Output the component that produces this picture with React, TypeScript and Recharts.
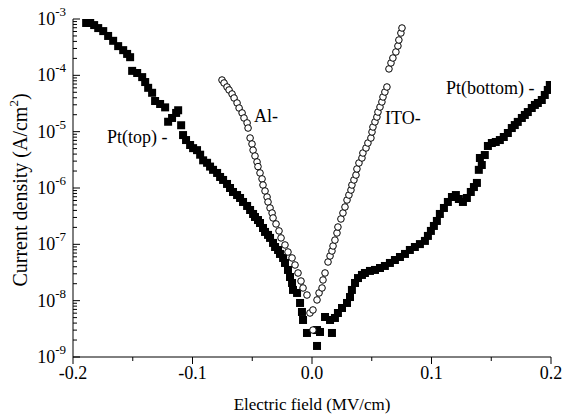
import React from 'react';
import { ScatterChart, Scatter, XAxis, YAxis } from 'recharts';

// Pt (filled squares): electric field (MV/cm) and current density (A/cm^2)
const ptField = [
  -0.189, -0.1856, -0.1823, -0.1789, -0.1747, -0.1706, -0.1664, -0.1622, -0.158, -0.1547,
  -0.1522, -0.1505, -0.1463, -0.1421, -0.1396, -0.1371, -0.1338, -0.1313, -0.1271, -0.1229,
  -0.1204, -0.1171, -0.1137, -0.112, -0.1095, -0.1079, -0.1054, -0.102, -0.0995, -0.0962,
  -0.0936, -0.0911, -0.0878, -0.0853, -0.0828, -0.0794, -0.0769, -0.0744, -0.0711, -0.0686,
  -0.0661, -0.0627, -0.0602, -0.0577, -0.0543, -0.0518, -0.0493, -0.0477, -0.0452, -0.0435,
  -0.041, -0.0393, -0.0368, -0.0351, -0.0326, -0.0309, -0.0284, -0.0268, -0.0242, -0.0226,
  -0.0201, -0.0184, -0.0167, -0.0159, -0.0125, -0.01, -0.0084, -0.0075, -0.0042, 0.0042,
  0.0067, 0.0042, 0.0109, 0.0151, 0.0167, 0.0192, 0.0217, 0.0251, 0.0293, 0.0318,
  0.0334, 0.036, 0.0385, 0.0418, 0.0443, 0.0485, 0.0527, 0.0569, 0.061, 0.0652,
  0.0694, 0.0736, 0.0778, 0.0819, 0.0861, 0.0903, 0.0945, 0.097, 0.0995, 0.102,
  0.1045, 0.107, 0.1104, 0.1137, 0.1171, 0.1204, 0.1229, 0.1263, 0.1296, 0.1329,
  0.1355, 0.138, 0.1396, 0.1421, 0.1405, 0.1446, 0.1472, 0.1505, 0.1538, 0.1572,
  0.1605, 0.1639, 0.1672, 0.1697, 0.1722, 0.1756, 0.1781, 0.1806, 0.1839, 0.1865,
  0.189, 0.1923, 0.1948, 0.1973, 0.199,
];
const ptCurrent = [
  8.5e-4, 8.5e-4, 7.8e-4, 6.9e-4, 6.1e-4, 5.0e-4, 4.1e-4, 3.3e-4, 2.8e-4, 2.4e-4,
  2.1e-4, 1.2e-4, 1.1e-4, 9.3e-5, 7.6e-5, 6.0e-5, 4.9e-5, 3.5e-5, 3.1e-5, 2.7e-5,
  1.5e-5, 1.75e-5, 2.15e-5, 2.4e-5, 1.3e-5, 8.7e-6, 7.1e-6, 5.8e-6, 5.1e-6, 4.7e-6,
  3.9e-6, 3.1e-6, 2.8e-6, 2.4e-6, 2.1e-6, 1.85e-6, 1.57e-6, 1.39e-6, 1.18e-6, 1.0e-6,
  8.5e-7, 7.5e-7, 6.65e-7, 5.65e-7, 4.8e-7, 4.07e-7, 3.46e-7, 3.06e-7, 2.7e-7, 2.39e-7,
  1.95e-7, 1.66e-7, 1.47e-7, 1.3e-7, 1.06e-7, 8.97e-8, 7.94e-8, 6.75e-8, 5.73e-8, 4.67e-8,
  3.51e-8, 2.63e-8, 2.06e-8, 1.55e-8, 1.37e-8, 9.1e-9, 6.3e-9, 4.54e-9, 2.67e-9, 3.01e-9,
  2.78e-9, 1.57e-9, 5.13e-9, 4.54e-9, 2.67e-9, 4.93e-9, 6.04e-9, 7.41e-9, 9.1e-9, 1.16e-8,
  1.55e-8, 2.06e-8, 2.52e-8, 2.86e-8, 3.1e-8, 3.37e-8, 3.51e-8, 3.8e-8, 4.13e-8, 4.67e-8,
  5.27e-8, 5.96e-8, 6.75e-8, 7.94e-8, 8.97e-8, 1.01e-7, 1.15e-7, 1.41e-7, 1.73e-7, 2.12e-7,
  2.6e-7, 3.46e-7, 4.42e-7, 5.65e-7, 6.92e-7, 7.5e-7, 6.38e-7, 5.65e-7, 6.65e-7, 8.5e-7,
  1.04e-6, 1.23e-6, 2.1e-6, 2.56e-6, 3.41e-6, 3.85e-6, 5.57e-6, 6.29e-6, 6.56e-6, 7.1e-6,
  8.04e-6, 9.47e-6, 1.16e-5, 1.31e-5, 1.49e-5, 1.75e-5, 1.98e-5, 2.23e-5, 2.63e-5, 2.98e-5,
  3.23e-5, 3.65e-5, 4.48e-5, 5.5e-5, 6.74e-5,
];

// Al- (open circles)
const alField = [
  -0.0753, -0.0736, -0.0711, -0.0694, -0.0669, -0.0652, -0.0627, -0.061, -0.0585, -0.0569,
  -0.0543, -0.0535, -0.0518, -0.0502, -0.0493, -0.0477, -0.046, -0.0452, -0.0435, -0.0418,
  -0.041, -0.0393, -0.0376, -0.0368, -0.0351, -0.0334, -0.0326, -0.0301, -0.0276, -0.0259,
  -0.0226, -0.0201, -0.0167, -0.0142, -0.0117, -0.0092, -0.0075, -0.0042, -0.0017, 0.0008,
];
const alCurrent = [
  8.26e-5, 7.31e-5, 6.21e-5, 5.5e-5, 4.67e-5, 3.96e-5, 3.23e-5, 2.63e-5, 2.15e-5, 1.75e-5,
  1.43e-5, 1.16e-5, 7.72e-6, 6.04e-6, 4.7e-6, 3.7e-6, 2.9e-6, 2.4e-6, 1.85e-6, 1.45e-6,
  1.13e-6, 8.85e-7, 6.92e-7, 5.65e-7, 4.42e-7, 3.6e-7, 2.94e-7, 2.3e-7, 1.73e-7, 1.3e-7,
  9.74e-8, 7.31e-8, 5.73e-8, 4.3e-8, 3.1e-8, 2.23e-8, 1.68e-8, 1.26e-8, 6.04e-9, 3.01e-9,
];

// ITO- (open circles)
const itoField = [
  0.0008, 0.0042, 0.0059, 0.0084, 0.0092, 0.0109, 0.0134, 0.0151, 0.0167, 0.0176,
  0.0192, 0.0209, 0.0217, 0.0242, 0.0259, 0.0276, 0.0293, 0.0309, 0.0326, 0.0334,
  0.0351, 0.0368, 0.0376, 0.0393, 0.0418, 0.0426, 0.0452, 0.0468, 0.0493, 0.0502,
  0.051, 0.0527, 0.0543, 0.0552, 0.0569, 0.0585, 0.0594, 0.061, 0.0627, 0.0644,
  0.0661, 0.0677, 0.0702, 0.0719, 0.0727, 0.0744, 0.0753,
];
const itoCurrent = [
  6.84e-9, 1.03e-8, 1.37e-8, 1.68e-8, 2.33e-8, 3.1e-8, 4.86e-8, 6.21e-8, 7.62e-8, 9.35e-8,
  1.19e-7, 1.59e-7, 2.03e-7, 2.82e-7, 3.6e-7, 4.6e-7, 6.12e-7, 7.5e-7, 9.2e-7, 1.13e-6,
  1.39e-6, 1.7e-6, 2.18e-6, 2.78e-6, 3.41e-6, 4.18e-6, 5.13e-6, 6.29e-6, 7.72e-6, 9.87e-6,
  1.21e-5, 1.49e-5, 1.82e-5, 2.23e-5, 2.74e-5, 3.37e-5, 4.13e-5, 5.06e-5, 6.21e-5, 1.3e-4,
  1.66e-4, 2.03e-4, 2.6e-4, 3.32e-4, 4.24e-4, 5.64e-4, 6.92e-4,
];

const xTicks = [-0.2, -0.15, -0.1, -0.05, 0, 0.05, 0.1, 0.15, 0.2];
const yDecades = [-9, -8, -7, -6, -5, -4];
const yMinorMultipliers = [1, 2, 3, 4, 5, 6, 7, 8, 9];
const yTicks: number[] = [];
yDecades.forEach((d) => yMinorMultipliers.forEach((m) => yTicks.push(Number(`${m}e${d}`))));
yTicks.push(1e-3);

const xTitle = 'Electric field (MV/cm)';
const yTitle = 'Current density (A/cm';
const labelPtTop = 'Pt(top) -';
const labelAl = 'Al-';
const labelIto = 'ITO-';
const labelPtBottom = 'Pt(bottom) -';

const FONT = '"Liberation Serif", "Times New Roman", serif';

const zip = (xs: number[], ys: number[]) => xs.map((x, i) => ({ x, y: ys[i] }));
const ptData = zip(ptField, ptCurrent);
const alData = zip(alField, alCurrent);
const itoData = zip(itoField, itoCurrent);

const YTick = (props: any) => {
  const { x, y, payload } = props;
  const e = Math.log10(payload.value);
  const major = Math.abs(e - Math.round(e)) < 1e-6;
  return (
    <g>
      <line x1={x} x2={x + (major ? 7 : 4)} y1={y} y2={y} stroke="#000" strokeWidth={1} />
      {major && (
        <text x={x - 7} y={y + 6} textAnchor="end" fontFamily={FONT} fontSize={18} fill="#000">
          <tspan>10</tspan>
          <tspan fontSize={13} dy={-9}>{String(Math.round(e))}</tspan>
        </text>
      )}
    </g>
  );
};

const XTick = (props: any) => {
  const { x, y, payload } = props;
  const v = payload.value as number;
  const major = Math.abs(v * 10 - Math.round(v * 10)) < 1e-6;
  return (
    <g>
      <line x1={x} x2={x} y1={y} y2={y + (major ? 7 : 4)} stroke="#000" strokeWidth={1} />
      {major && (
        <text x={x} y={y + 22} textAnchor="middle" fontFamily={FONT} fontSize={18} fill="#000">
          {v.toFixed(1)}
        </text>
      )}
    </g>
  );
};

const Square = (props: any) => {
  const { cx, cy } = props;
  return <rect x={cx - 4} y={cy - 4} width={8} height={8} fill="#000" />;
};

const Ring = (props: any) => {
  const { cx, cy } = props;
  return <circle cx={cx} cy={cy} r={3.3} fill="#fff" stroke="#000" strokeWidth={1} />;
};

export default function App() {
  return (
    <div style={{ position: 'absolute', left: 0, top: 0, width: 564, height: 417, background: '#fff' }}>
      <ScatterChart width={564} height={417} margin={{ top: 19, right: 13, bottom: 20, left: 0 }}>
        <XAxis
          type="number"
          dataKey="x"
          domain={[-0.2, 0.2]}
          ticks={xTicks}
          interval={0}
          allowDataOverflow
          height={40}
          tickSize={0}
          tickMargin={0}
          tickLine={false}
          axisLine={{ stroke: '#000', strokeWidth: 1 }}
          tick={<XTick />}
        />
        <YAxis
          type="number"
          dataKey="y"
          scale="log"
          domain={[1e-9, 1e-3]}
          ticks={yTicks}
          interval={0}
          allowDataOverflow
          width={73}
          tickSize={0}
          tickMargin={0}
          tickLine={false}
          axisLine={{ stroke: '#000', strokeWidth: 1 }}
          tick={<YTick />}
        />
        <Scatter data={ptData} shape={<Square />} isAnimationActive={false} />
        <Scatter data={alData} shape={<Ring />} isAnimationActive={false} />
        <Scatter data={itoData} shape={<Ring />} isAnimationActive={false} />
      </ScatterChart>
      <svg
        width={564}
        height={417}
        style={{ position: 'absolute', left: 0, top: 0, pointerEvents: 'none' }}
      >
        <g fontFamily={FONT} fill="#000">
          <text x={312} y={410} textAnchor="middle" fontSize={17}>{xTitle}</text>
          <text transform="translate(27,190) rotate(-90)" textAnchor="middle" fontSize={20}>
            <tspan>{yTitle}</tspan>
            <tspan fontSize={13} dy={-9}>2</tspan>
            <tspan dy={9}>)</tspan>
          </text>
          <text x={107} y={143} fontSize={18}>{labelPtTop}</text>
          <text x={254} y={122} fontSize={18}>{labelAl}</text>
          <text x={385} y={124} fontSize={18}>{labelIto}</text>
          <text x={446} y={94} fontSize={18}>{labelPtBottom}</text>
        </g>
      </svg>
    </div>
  );
}
